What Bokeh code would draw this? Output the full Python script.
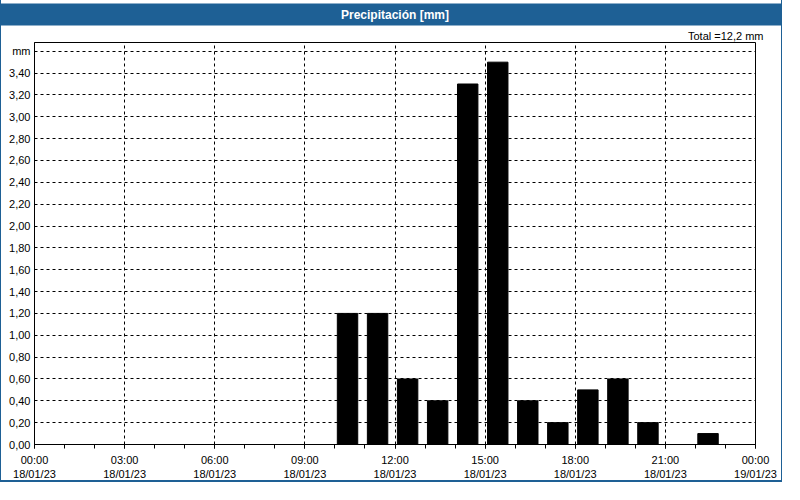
from bokeh.plotting import figure
from bokeh.models import FixedTicker, Title, Range1d, ColumnDataSource
from bokeh.transform import dodge
from bokeh.embed import file_html
from bokeh.resources import INLINE

# ---- data ----
hours = [10, 11, 12, 13, 14, 15, 16, 17, 18, 19, 20, 21, 22]
precip = [1.2, 1.2, 0.6, 0.4, 3.3, 3.5, 0.4, 0.2, 0.5, 0.6, 0.2, 0.0, 0.1]
x_ticks = [0, 3, 6, 9, 12, 15, 18, 21, 24]
x_labels = ["00:00\n18/01/23", "03:00\n18/01/23", "06:00\n18/01/23",
            "09:00\n18/01/23", "12:00\n18/01/23", "15:00\n18/01/23",
            "18:00\n18/01/23", "21:00\n18/01/23", "00:00\n19/01/23"]
y_ticks = [0.0, 0.2, 0.4, 0.6, 0.8, 1.0, 1.2, 1.4, 1.6, 1.8, 2.0, 2.2, 2.4,
           2.6, 2.8, 3.0, 3.2, 3.4, 3.6]
y_labels = ["0,00", "0,20", "0,40", "0,60", "0,80", "1,00", "1,20", "1,40",
            "1,60", "1,80", "2,00", "2,20", "2,40", "2,60", "2,80", "3,00",
            "3,20", "3,40", "mm"]
title_text = "Precipitación [mm]"
total_text = "Total =12,2 mm"

BLUE = "#1e6095"
FONT = "Liberation Sans"

src = ColumnDataSource(dict(hour=hours, precip=precip))

p = figure(width=782, height=482, output_backend="svg", toolbar_location=None,
           x_range=Range1d(0, 24), y_range=Range1d(0, 3.68),
           min_border_left=33, min_border_right=28, min_border_bottom=0,
           min_border_top=0, title=None)
p.styles = {"border-left": f"1px solid {BLUE}", "border-right": f"1px solid {BLUE}",
            "border-bottom": f"2px solid {BLUE}"}
p.background_fill_color = "white"
p.border_fill_color = "white"
p.outline_line_color = "black"
p.outline_line_width = 1

p.vbar(x=dodge("hour", 0.42, range=p.x_range), top="precip", width=0.68,
       source=src, fill_color="black", line_color="black")

# axes
p.xaxis.ticker = FixedTicker(ticks=x_ticks, minor_ticks=list(range(0, 25)))
p.xaxis.major_label_overrides = {t: l for t, l in zip(x_ticks, x_labels)}
p.yaxis.ticker = FixedTicker(ticks=y_ticks)
p.yaxis.major_label_overrides = {t: l for t, l in zip(y_ticks, y_labels)}
for ax in (p.xaxis[0], p.yaxis[0]):
    ax.axis_line_color = "black"
    ax.major_label_text_font = FONT
    ax.major_label_text_font_size = "11px"
    ax.major_label_text_color = "black"
    ax.major_tick_line_color = "black"
    ax.minor_tick_line_color = "black"
p.xaxis.major_tick_in = 0
p.xaxis.major_tick_out = 4
p.xaxis.minor_tick_in = 0
p.xaxis.minor_tick_out = 4
p.xaxis.major_label_standoff = 5
p.yaxis.major_tick_in = 0
p.yaxis.major_tick_out = 0
p.yaxis.minor_tick_out = 0
p.yaxis.major_label_standoff = 4

# grids
p.xgrid.ticker = FixedTicker(ticks=x_ticks[1:-1])
p.ygrid.ticker = FixedTicker(ticks=y_ticks[1:])
for g in (p.xgrid[0], p.ygrid[0]):
    g.grid_line_color = "black"
    g.grid_line_dash = "3 3"
    g.grid_line_width = 1

# titles
p.add_layout(Title(text=total_text, align="right", text_font=FONT,
                   text_font_size="11px", text_font_style="normal",
                   text_color="black", standoff=2, offset=-8), "above")
p.add_layout(Title(text=title_text, align="center", text_font=FONT,
                   text_font_size="12px", text_font_style="bold",
                   text_color="white", background_fill_color=BLUE,
                   padding=(420, 4), standoff=2), "above")

open("out.html", "w").write(file_html(p, INLINE))
